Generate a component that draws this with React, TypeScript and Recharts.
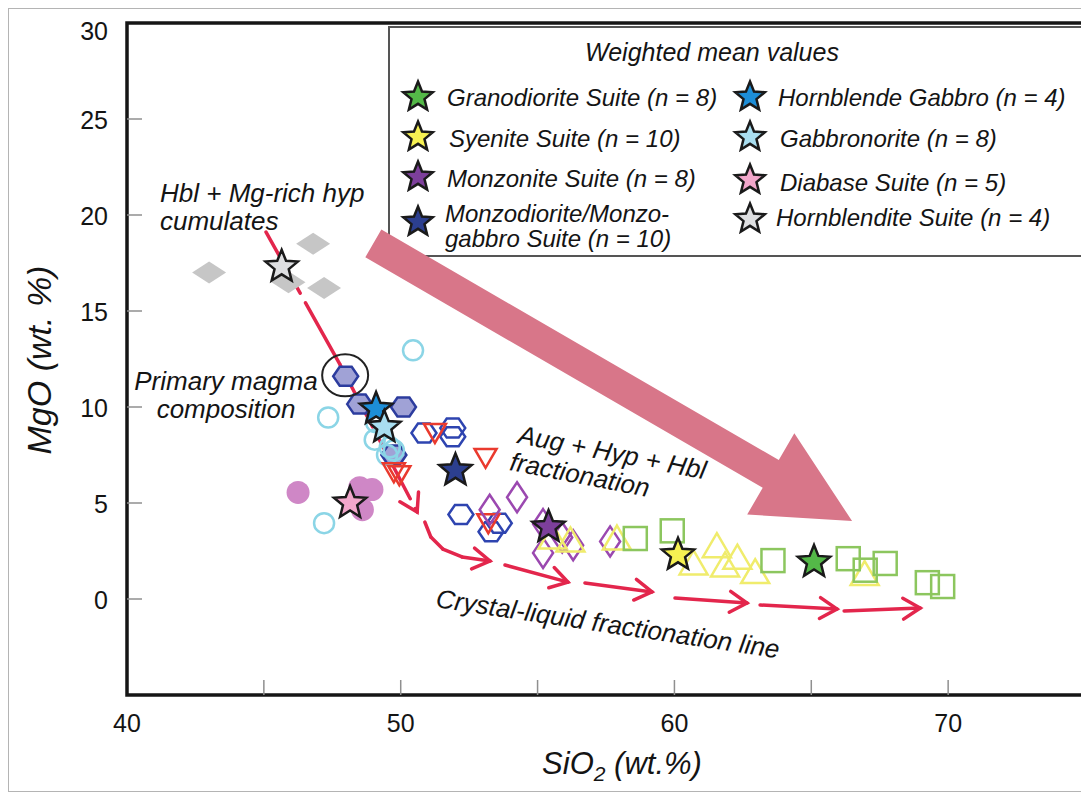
import React from 'react';
import {
  ScatterChart,
  Scatter,
  XAxis,
  YAxis,
  ReferenceLine,
  ReferenceArea,
  ReferenceDot,
} from 'recharts';

// ---- sample data (SiO2 wt.% vs MgO wt.%) ----
const cumulateDiamonds = [
  { x: 43.0, y: 17.0 },
  { x: 46.8, y: 18.5 },
  { x: 45.9, y: 16.5 },
  { x: 47.2, y: 16.2 },
];

const filledHexagons = [
  { x: 47.99, y: 11.6 },
  { x: 48.5, y: 10.15 },
  { x: 50.1, y: 10.0 },
  { x: 49.75, y: 7.5 },
];

const openHexagons = [
  { x: 50.85, y: 8.65 },
  { x: 51.9, y: 8.9 },
  { x: 51.9, y: 8.45 },
  { x: 52.2, y: 4.4 },
  { x: 53.6, y: 3.95 },
  { x: 53.3, y: 3.5 },
];

const lightBlueCircles = [
  { x: 50.45, y: 12.95 },
  { x: 47.35, y: 9.45 },
  { x: 49.1, y: 9.2 },
  { x: 49.05, y: 8.3 },
  { x: 49.6, y: 7.9 },
  { x: 49.5, y: 7.5 },
  { x: 49.75, y: 7.75 },
  { x: 47.2, y: 3.95 },
];

const pinkCircles = [
  { x: 46.25, y: 5.55 },
  { x: 48.5, y: 5.8 },
  { x: 48.95, y: 5.7 },
  { x: 48.6, y: 4.65 },
];

const redTriangles = [
  { x: 51.25, y: 8.65 },
  { x: 53.1, y: 7.35 },
  { x: 53.2, y: 3.95 },
  { x: 49.75, y: 6.6 },
  { x: 49.95, y: 6.45 },
];

const purpleDiamonds = [
  { x: 53.25, y: 4.65 },
  { x: 54.25, y: 5.3 },
  { x: 55.2, y: 3.9 },
  { x: 55.2, y: 2.4 },
  { x: 55.9, y: 3.2 },
  { x: 56.3, y: 2.8 },
  { x: 57.65, y: 3.0 },
];

const yellowTriangles = [
  { x: 55.55, y: 3.2 },
  { x: 56.2, y: 3.05 },
  { x: 57.9, y: 3.15 },
  { x: 60.7, y: 1.85 },
  { x: 61.55, y: 2.75 },
  { x: 61.85, y: 1.75 },
  { x: 62.3, y: 2.15 },
  { x: 62.95, y: 1.4 },
  { x: 66.95, y: 1.3 },
];

const greenSquares = [
  { x: 58.57, y: 3.15 },
  { x: 59.92, y: 3.55 },
  { x: 63.6, y: 2.0 },
  { x: 66.35, y: 2.1 },
  { x: 66.97, y: 1.5 },
  { x: 67.7, y: 1.85 },
  { x: 69.24, y: 0.85 },
  { x: 69.8, y: 0.65 },
];

// weighted means (stars)
const suiteNames = [
  'Granodiorite Suite (n = 8)',
  'Syenite Suite (n = 10)',
  'Monzonite Suite (n = 8)',
  'Monzodiorite/Monzo-|gabbro Suite (n = 10)',
  'Hornblende Gabbro (n = 4)',
  'Gabbronorite (n = 8)',
  'Diabase Suite (n = 5)',
  'Hornblendite Suite (n = 4)',
];
const meanSiO2 = [65.1, 60.13, 55.4, 52.0, 49.1, 49.4, 48.15, 45.65];
const meanMgO = [1.93, 2.3, 3.75, 6.7, 9.9, 8.95, 5.0, 17.3];

const primaryMagma = { x: 47.97, y: 11.65 };

// trend lines
const dashedTrend = [
  { x: 45.08, y: 19.11 },
  { x: 47.79, y: 12.19 },
  { x: 50.6, y: 4.53 },
];
const curvedTrend = [
  { x: 50.88, y: 4.01 },
  { x: 51.1, y: 3.23 },
  { x: 51.54, y: 2.6 },
  { x: 52.24, y: 2.19 },
  { x: 53.26, y: 1.98 },
];
const fractionationArrows = [
  [{ x: 53.81, y: 1.77 }, { x: 56.11, y: 0.88 }],
  [{ x: 56.73, y: 0.83 }, { x: 59.18, y: 0.37 }],
  [{ x: 60.02, y: 0.05 }, { x: 62.65, y: -0.21 }],
  [{ x: 63.13, y: -0.31 }, { x: 65.94, y: -0.52 }],
  [{ x: 66.2, y: -0.62 }, { x: 68.98, y: -0.47 }],
];
const bigArrow = [
  { x: 49.0, y: 18.52 },
  { x: 66.49, y: 4.06 },
];

const xTicks = [40, 45, 50, 55, 60, 65, 70, 75];
const xTickLabels = [40, 50, 60, 70];
const yTicks = [-5, 0, 5, 10, 15, 20, 25, 30];
const yTickLabels = [0, 5, 10, 15, 20, 25, 30];

// ---- styles ----
const FONT = "'Liberation Sans', Arial, Helvetica, sans-serif";
const TEXT = '#141414';
const RED = '#e3264c';
const STAR_COLORS: Record<string, string> = {
  'Granodiorite Suite (n = 8)': '#54b948',
  'Syenite Suite (n = 10)': '#f6f152',
  'Monzonite Suite (n = 8)': '#7d3f9b',
  'Monzodiorite/Monzo-|gabbro Suite (n = 10)': '#2c3f8f',
  'Hornblende Gabbro (n = 4)': '#1d8ed8',
  'Gabbronorite (n = 8)': '#a9def0',
  'Diabase Suite (n = 5)': '#f2a7cb',
  'Hornblendite Suite (n = 4)': '#dedfe1',
};

const starPoints = (cx: number, cy: number, R: number, r: number) => {
  const pts: string[] = [];
  for (let i = 0; i < 10; i++) {
    const a = -Math.PI / 2 + (i * Math.PI) / 5;
    const rad = i % 2 === 0 ? R : r;
    pts.push(`${cx + rad * Math.cos(a)},${cy + rad * Math.sin(a)}`);
  }
  return pts.join(' ');
};

const Star = ({ cx, cy, fill, R = 17 }: any) => (
  <polygon
    points={starPoints(cx, cy, R, R * 0.44)}
    fill={fill}
    stroke="#1a1a1a"
    strokeWidth={2.5}
    strokeLinejoin="miter"
  />
);

const grayDiamond = ({ cx, cy }: any) => (
  <polygon
    points={`${cx - 17},${cy} ${cx},${cy - 11} ${cx + 17},${cy} ${cx},${cy + 11}`}
    fill="#c6c6c6"
  />
);

const hexagon = (fill: string, stroke: string) => ({ cx, cy }: any) => (
  <polygon
    points={`${cx - 12.5},${cy} ${cx - 6},${cy - 9.5} ${cx + 6},${cy - 9.5} ${cx + 12.5},${cy} ${cx + 6},${cy + 9.5} ${cx - 6},${cy + 9.5}`}
    fill={fill}
    stroke={stroke}
    strokeWidth={2.5}
  />
);

const ringCircle = ({ cx, cy }: any) => (
  <circle cx={cx} cy={cy} r={10} fill="none" stroke="#8bd5e6" strokeWidth={2.5} />
);

const pinkDot = ({ cx, cy }: any) => <circle cx={cx} cy={cy} r={11.5} fill="#cf87c6" />;

const downTriangle = ({ cx, cy }: any) => (
  <polygon
    points={`${cx - 11},${cy - 9} ${cx + 11},${cy - 9} ${cx},${cy + 10}`}
    fill="none"
    stroke="#ea3a2e"
    strokeWidth={2.5}
  />
);

const tallDiamond = ({ cx, cy }: any) => (
  <polygon
    points={`${cx},${cy - 15} ${cx + 10},${cy} ${cx},${cy + 15} ${cx - 10},${cy}`}
    fill="none"
    stroke="#9b48b0"
    strokeWidth={2.5}
  />
);

const upTriangle = ({ cx, cy }: any) => (
  <polygon
    points={`${cx},${cy - 13} ${cx + 14},${cy + 11} ${cx - 14},${cy + 11}`}
    fill="none"
    stroke="#f0ec6c"
    strokeWidth={2.5}
  />
);

const openSquare = ({ cx, cy }: any) => (
  <rect x={cx - 11.5} y={cy - 11.5} width={23} height={23} fill="none" stroke="#8cc65e" strokeWidth={2.5} />
);

const arrowSegment = (head: boolean, dash?: string) => (p: any) => {
  const { x1, y1, x2, y2 } = p;
  const a = Math.atan2(y2 - y1, x2 - x1);
  const L = 20;
  const s = 0.55;
  return (
    <g>
      <line x1={x1} y1={y1} x2={x2} y2={y2} stroke={RED} strokeWidth={3.5} strokeDasharray={dash} strokeLinecap="round" />
      {head && (
        <polyline
          points={`${x2 - L * Math.cos(a - s)},${y2 - L * Math.sin(a - s)} ${x2},${y2} ${x2 - L * Math.cos(a + s)},${y2 - L * Math.sin(a + s)}`}
          fill="none"
          stroke={RED}
          strokeWidth={3.5}
          strokeLinecap="round"
        />
      )}
    </g>
  );
};

const bigArrowShape = (p: any) => {
  const { x1, y1, x2, y2 } = p;
  const dx = x2 - x1;
  const dy = y2 - y1;
  const len = Math.hypot(dx, dy);
  const ux = dx / len;
  const uy = dy / len;
  const nx = -uy;
  const ny = ux;
  const sw = 16;
  const hw = 47;
  const hl = 94;
  const bx = x2 - ux * hl;
  const by = y2 - uy * hl;
  const pts = [
    [x1 - nx * sw, y1 - ny * sw],
    [bx - nx * sw, by - ny * sw],
    [bx - nx * hw, by - ny * hw],
    [x2, y2],
    [bx + nx * hw, by + ny * hw],
    [bx + nx * sw, by + ny * sw],
    [x1 + nx * sw, y1 + ny * sw],
  ];
  return <polygon points={pts.map((q) => q.join(',')).join(' ')} fill="#d87689" />;
};

const XTick = ({ x, y, payload }: any) => {
  const v = payload.value;
  return (
    <g>
      {v > 40 && v < 75 && <line x1={x} x2={x} y1={y} y2={y - 15} stroke="#8f8f8f" strokeWidth={1.5} />}
      {xTickLabels.includes(v) && (
        <text x={x} y={y + 37} textAnchor="middle" fontFamily={FONT} fontSize={25} fill={TEXT}>
          {v}
        </text>
      )}
    </g>
  );
};

const YTick = ({ x, y, payload }: any) => {
  const v = payload.value;
  return (
    <g>
      {v > -5 && v < 30 && <line x1={x} x2={x + 15} y1={y} y2={y} stroke="#8f8f8f" strokeWidth={1.5} />}
      {yTickLabels.includes(v) && (
        <text x={x - 19} y={y + (v === 30 ? 17 : 10)} textAnchor="end" fontFamily={FONT} fontSize={25} fill={TEXT}>
          {v}
        </text>
      )}
    </g>
  );
};

const LEGEND_POS: Record<string, { sx: number; sy: number; tx: number; ty: number }> = {
  'Granodiorite Suite (n = 8)': { sx: 410, sy: 89, tx: 439, ty: 98 },
  'Syenite Suite (n = 10)': { sx: 410, sy: 129, tx: 441, ty: 139 },
  'Monzonite Suite (n = 8)': { sx: 410, sy: 169, tx: 439, ty: 179 },
  'Monzodiorite/Monzo-|gabbro Suite (n = 10)': { sx: 410, sy: 214, tx: 437, ty: 214 },
  'Hornblende Gabbro (n = 4)': { sx: 742, sy: 89, tx: 770, ty: 98 },
  'Gabbronorite (n = 8)': { sx: 742, sy: 129, tx: 772, ty: 139 },
  'Diabase Suite (n = 5)': { sx: 742, sy: 172, tx: 772, ty: 183 },
  'Hornblendite Suite (n = 4)': { sx: 742, sy: 211, tx: 768, ty: 218 },
};

const W = 1081;
const H = 786;

export default function App() {
  const means = suiteNames.map((name, i) => ({ name, x: meanSiO2[i], y: meanMgO[i] }));
  return (
    <div style={{ position: 'relative', width: W, height: H }}>
      {/* figure frame */}
      <div
        style={{
          position: 'absolute',
          left: 0,
          top: 0,
          width: W,
          height: 784,
          boxSizing: 'border-box',
          border: '1px solid #b4b4b4',
        }}
      />
      {/* legend box sits below the chart layer so the trend arrow covers it */}
      <svg width={W} height={H} style={{ position: 'absolute', left: 0, top: 0, zIndex: -1 }}>
        <rect x={381} y={19} width={693} height={229} fill="#fff" stroke="#555" strokeWidth={2} />
        <text x={704} y={53} textAnchor="middle" fontFamily={FONT} fontStyle="italic" fontSize={25} fill={TEXT}>
          Weighted mean values
        </text>
        {suiteNames.map((name) => {
          const p = LEGEND_POS[name];
          const lines = name.split('|');
          return (
            <g key={name}>
              <Star cx={p.sx} cy={p.sy} R={15.5} fill={STAR_COLORS[name]} />
              <text x={p.tx} y={p.ty} fontFamily={FONT} fontStyle="italic" fontSize={24} fill={TEXT}>
                {lines.map((l, i) => (
                  <tspan key={i} x={p.tx} dy={i === 0 ? 0 : 25}>
                    {l}
                  </tspan>
                ))}
              </text>
            </g>
          );
        })}
      </svg>

      <ScatterChart width={W} height={H} margin={{ top: 15, right: 4, bottom: 0, left: 0 }}>
        <XAxis
          type="number"
          dataKey="x"
          domain={[40, 75]}
          ticks={xTicks}
          interval={0}
          axisLine={false}
          tickLine={false}
          tickSize={0}
          tickMargin={0}
          height={99}
          tick={<XTick />}
        />
        <YAxis
          type="number"
          dataKey="y"
          domain={[-5, 30]}
          ticks={yTicks}
          interval={0}
          axisLine={false}
          tickLine={false}
          tickSize={0}
          tickMargin={0}
          width={119}
          tick={<YTick />}
        />
        <ReferenceArea
          x1={40}
          x2={75}
          y1={-5}
          y2={30}
          fill="none"
          fillOpacity={0}
          stroke="#161616"
          strokeWidth={3.5}
          ifOverflow="visible"
        />

        {dashedTrend.slice(1).map((pt, i) => (
          <ReferenceLine
            key={`d${i}`}
            segment={[dashedTrend[i], pt]}
            ifOverflow="visible"
            shape={arrowSegment(i === dashedTrend.length - 2, '70 11')}
          />
        ))}
        {curvedTrend.slice(1).map((pt, i) => (
          <ReferenceLine
            key={`c${i}`}
            segment={[curvedTrend[i], pt]}
            ifOverflow="visible"
            shape={arrowSegment(i === curvedTrend.length - 2)}
          />
        ))}
        {fractionationArrows.map((seg, i) => (
          <ReferenceLine key={`f${i}`} segment={seg} ifOverflow="visible" shape={arrowSegment(true)} />
        ))}

        <Scatter data={cumulateDiamonds} shape={grayDiamond} isAnimationActive={false} />
        <Scatter data={filledHexagons} shape={hexagon('#a0a2d6', '#2c3c9e')} isAnimationActive={false} />
        <Scatter data={openHexagons} shape={hexagon('none', '#2e44b0')} isAnimationActive={false} />
        <Scatter data={lightBlueCircles} shape={ringCircle} isAnimationActive={false} />
        <Scatter data={pinkCircles} shape={pinkDot} isAnimationActive={false} />
        <Scatter data={redTriangles} shape={downTriangle} isAnimationActive={false} />
        <Scatter data={purpleDiamonds} shape={tallDiamond} isAnimationActive={false} />
        <Scatter data={yellowTriangles} shape={upTriangle} isAnimationActive={false} />
        <Scatter data={greenSquares} shape={openSquare} isAnimationActive={false} />
        <Scatter
          data={means}
          shape={(p: any) => <Star cx={p.cx} cy={p.cy} fill={STAR_COLORS[p.payload.name]} />}
          isAnimationActive={false}
        />

        <ReferenceDot
          x={primaryMagma.x}
          y={primaryMagma.y}
          r={22}
          ifOverflow="visible"
          shape={(p: any) => (
            <ellipse cx={p.cx} cy={p.cy} rx={23} ry={21} fill="none" stroke="#222" strokeWidth={2} />
          )}
        />
        <ReferenceLine segment={bigArrow} ifOverflow="visible" shape={bigArrowShape} />
      </ScatterChart>

      {/* annotations and axis titles */}
      <svg
        width={W}
        height={H}
        style={{ position: 'absolute', left: 0, top: 0, zIndex: 1, pointerEvents: 'none' }}
        fontFamily={FONT}
        fill={TEXT}
      >
        <text x={152} y={194} fontSize={26} fontStyle="italic">
          <tspan x={152}>Hbl + Mg-rich hyp</tspan>
          <tspan x={152} dy={28}>cumulates</tspan>
        </text>
        <text x={218} y={382} fontSize={26} fontStyle="italic" textAnchor="middle">
          <tspan x={218}>Primary magma</tspan>
          <tspan x={218} dy={28}>composition</tspan>
        </text>
        <text transform="translate(509,435) rotate(11)" fontSize={26} fontStyle="italic">
          <tspan x={0} y={0}>Aug + Hyp + Hbl</tspan>
          <tspan x={-3} y={28}>fractionation</tspan>
        </text>
        <text transform="translate(427,599) rotate(8.5)" fontSize={26} fontStyle="italic">
          Crystal-liquid fractionation line
        </text>
        <text x={614} y={766} fontSize={31} fontStyle="italic" textAnchor="middle">
          SiO
          <tspan fontSize={21} dy={7}>2</tspan>
          <tspan dy={-7}> (wt.%)</tspan>
        </text>
        <text transform="translate(43,352) rotate(-90)" fontSize={34} fontStyle="italic" textAnchor="middle">
          MgO (wt. %)
        </text>
      </svg>
    </div>
  );
}
